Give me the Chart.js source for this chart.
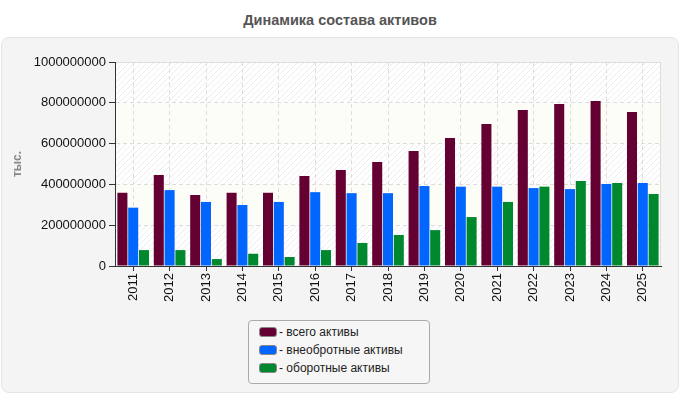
<!DOCTYPE html>
<html lang="ru">
<head>
<meta charset="UTF-8">
<title>Динамика состава активов</title>
<style>
    body {
        margin: 0;
        background: #ffffff;
        font-family: "Liberation Sans", Arial, sans-serif;
    }
    .wrap {
        position: relative;
        width: 680px;
        height: 400px;
    }
    .title {
        position: absolute;
        left: 0;
        top: 12px;
        width: 680px;
        text-align: center;
        font-size: 14.5px;
        font-weight: bold;
        color: #555;
    }
    .panel {
        position: absolute;
        left: 1px;
        top: 37px;
        width: 676px;
        height: 354px;
        background: #f4f4f4;
        border: 1px solid #e4e4e4;
        border-radius: 8px;
    }
    #chart {
        position: absolute;
        left: 0;
        top: 0;
    }
    .legend {
        position: absolute;
        left: 248px;
        top: 320px;
        width: 180px;
        height: 62px;
        border: 1px solid #aaa;
        border-radius: 4px;
        background: #f6f6f6;
        font-size: 12px;
        color: #222;
    }
    .legend div {
        position: absolute;
        left: 10px;
        height: 14px;
        line-height: 14px;
        white-space: nowrap;
    }
    .legend span {
        display: inline-block;
        width: 18px;
        height: 10px;
        border-radius: 3px;
        border: 1px solid #888;
        box-sizing: border-box;
        vertical-align: -1px;
        margin-right: 2px;
    }
</style>
</head>
<body>
<div class="wrap">
    <div class="panel"></div>
    <div class="title">Динамика состава активов</div>
    <canvas id="chart" width="680" height="310"></canvas>
    <div class="legend" id="legend"></div>
</div>
<script src="https://cdn.jsdelivr.net/npm/chart.js"></script>
<script>
const years = ['2011', '2012', '2013', '2014', '2015', '2016', '2017', '2018',
               '2019', '2020', '2021', '2022', '2023', '2024', '2025'];
const totalAssets = [359e6, 446e6, 348e6, 359e6, 359e6, 441e6, 470e6, 510e6,
                     564e6, 628e6, 696e6, 765e6, 794e6, 809e6, 755e6];
const fixedAssets = [286e6, 372e6, 314e6, 299e6, 314e6, 362e6, 357e6, 357e6,
                     392e6, 389e6, 389e6, 382e6, 377e6, 402e6, 407e6];
const currentAssets = [78e6, 78e6, 34e6, 60e6, 44e6, 78e6, 113e6, 152e6,
                       176e6, 240e6, 314e6, 389e6, 417e6, 407e6, 353e6];
const seriesNames = ['всего активы', 'внеобротные активы', 'оборотные активы'];
const seriesColors = ['#650033', '#0066ff', '#00882f'];

// hatched fill for the plot background
function makeHatch() {
    const c = document.createElement('canvas');
    c.width = 6; c.height = 6;
    const g = c.getContext('2d');
    g.fillStyle = '#ffffff';
    g.fillRect(0, 0, 6, 6);
    g.strokeStyle = '#ececec';
    g.lineWidth = 1;
    g.beginPath();
    g.moveTo(0, 6); g.lineTo(6, 0);
    g.moveTo(-3, 3); g.lineTo(3, -3);
    g.moveTo(3, 9); g.lineTo(9, 3);
    g.stroke();
    return c;
}

const plotBg = {
    id: 'plotBg',
    beforeDraw(chart) {
        const ctx = chart.ctx;
        const a = chart.chartArea;
        const y = chart.scales.y;
        const hatch = ctx.createPattern(makeHatch(), 'repeat');
        ctx.save();
        ctx.fillStyle = hatch;
        ctx.fillRect(a.left, a.top, a.right - a.left, a.bottom - a.top);
        ctx.fillStyle = '#fcfdf6';
        [[600e6, 800e6], [200e6, 400e6]].forEach(b => {
            const y1 = y.getPixelForValue(b[1]);
            const y0 = y.getPixelForValue(b[0]);
            ctx.fillRect(a.left, y1, a.right - a.left, y0 - y1);
        });
        ctx.strokeStyle = '#dddddd';
        ctx.lineWidth = 1;
        ctx.strokeRect(a.left + 0.5, a.top + 0.5, a.right - a.left - 1, a.bottom - a.top);
        ctx.restore();
    }
};

new Chart(document.getElementById('chart'), {
    type: 'bar',
    data: {
        labels: years,
        datasets: [totalAssets, fixedAssets, currentAssets].map((d, i) => ({
            label: seriesNames[i],
            data: d,
            backgroundColor: seriesColors[i],
            borderWidth: 0,
            categoryPercentage: 0.89,
            barPercentage: 0.93
        }))
    },
    options: {
        responsive: false,
        animation: false,
        layout: { padding: { left: 10, right: 19, top: 62, bottom: 0 } },
        plugins: {
            legend: { display: false },
            tooltip: { enabled: false }
        },
        scales: {
            x: {
                offset: true,
                grid: {
                    offset: false,
                    color: '#dddddd',
                    tickColor: '#333333',
                    tickLength: 5,
                    drawOnChartArea: true
                },
                border: { color: '#333333', width: 1, dash: [4, 3] },
                ticks: {
                    color: '#111111',
                    font: { family: 'Liberation Sans', size: 13 },
                    maxRotation: 90,
                    minRotation: 90,
                    padding: 2
                },
                afterFit(s) { s.height = 44; }
            },
            y: {
                min: 0,
                max: 1000000000,
                grid: {
                    color: '#dddddd',
                    tickColor: '#333333',
                    tickLength: 6
                },
                border: { color: '#333333', width: 1, dash: [4, 3] },
                ticks: {
                    stepSize: 200000000,
                    color: '#111111',
                    font: { family: 'Liberation Sans', size: 13 },
                    padding: 3,
                    callback: v => String(v)
                },
                title: {
                    display: true,
                    text: 'тыс.',
                    color: '#888888',
                    font: { family: 'Liberation Sans', size: 12, weight: 'bold' },
                    padding: { top: 0, bottom: 0 }
                },
                afterFit(s) { s.width = 105; }
            }
        }
    },
    plugins: [plotBg]
});

// legend as plain html
const legend = document.getElementById('legend');
seriesNames.forEach((name, i) => {
    const row = document.createElement('div');
    row.style.top = (4 + i * 18) + 'px';
    row.innerHTML = '<span style="background:' + seriesColors[i] + '"></span>- ' + name;
    legend.appendChild(row);
});
</script>
</body>
</html>
